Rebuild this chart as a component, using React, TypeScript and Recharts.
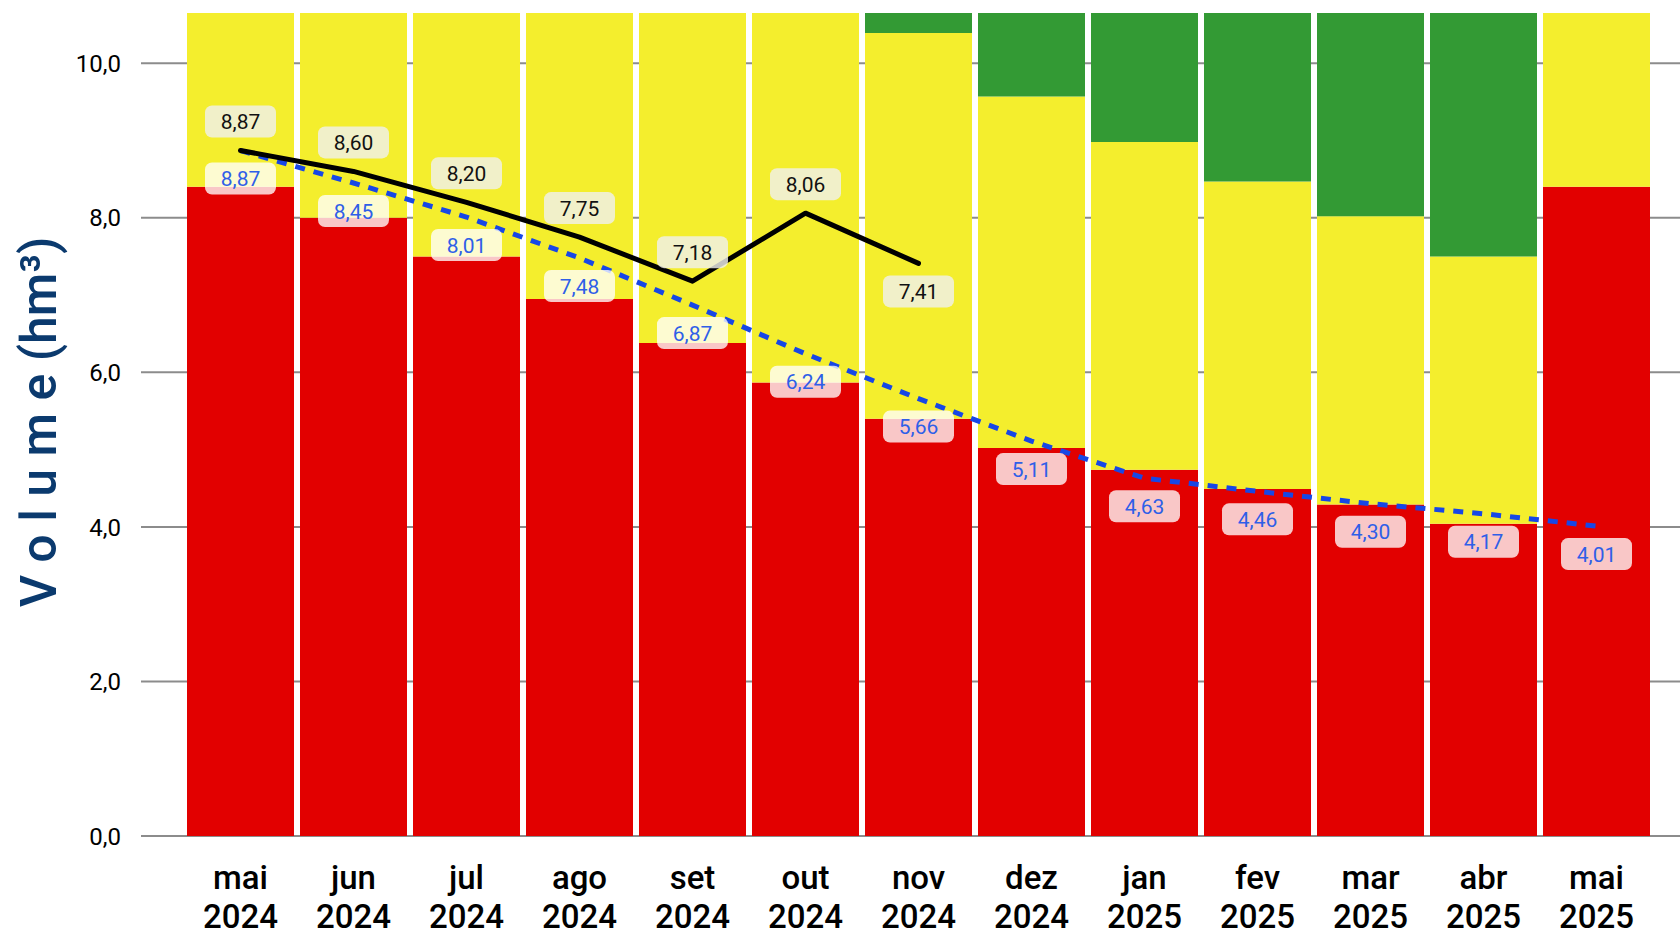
import { ComposedChart, Bar, Line, XAxis, YAxis, CartesianGrid, LabelList } from 'recharts';

const months = [
  'mai 2024', 'jun 2024', 'jul 2024', 'ago 2024', 'set 2024', 'out 2024', 'nov 2024',
  'dez 2024', 'jan 2025', 'fev 2025', 'mar 2025', 'abr 2025', 'mai 2025',
];

// faixas empilhadas (hm³)
const redBand = [8.4, 8.0, 7.5, 6.95, 6.38, 5.87, 5.4, 5.02, 4.74, 4.49, 4.29, 4.04, 8.4];
const yellowBand = [2.25, 2.65, 3.15, 3.7, 4.27, 4.78, 4.99, 4.55, 4.24, 3.98, 3.73, 3.46, 2.25];
const greenBand = [0, 0, 0, 0, 0, 0, 0.26, 1.08, 1.67, 2.18, 2.63, 3.15, 0];

const observed = [8.87, 8.6, 8.2, 7.75, 7.18, 8.06, 7.41, null, null, null, null, null, null];
const projected = [8.87, 8.45, 8.01, 7.48, 6.87, 6.24, 5.66, 5.11, 4.63, 4.46, 4.3, 4.17, 4.01];

const yTicks = [0, 2, 4, 6, 8, 10];

const FONT = 'Roboto, "DejaVu Sans", sans-serif';

const data = months.map((m, i) => ({
  month: m,
  red: redBand[i],
  yellow: yellowBand[i],
  green: greenBand[i],
  observed: observed[i],
  projected: projected[i],
}));

const fmt = (v: number) => v.toFixed(2).replace('.', ',');

function BoxLabel(props: any) {
  const { x, y, value, index, kind } = props;
  if (value == null || x == null || y == null) return null;
  const below = kind === 'projected' || index === 6;
  const cy = below ? y + 28 : y - 29;
  const w = 71;
  const h = 32;
  return (
    <g>
      <rect
        x={x - w / 2}
        y={cy - h / 2}
        width={w}
        height={h}
        rx={7}
        fill={kind === 'projected' ? 'rgba(255,255,255,0.78)' : 'rgba(240,240,236,0.82)'}
      />
      <text
        x={x}
        y={cy}
        dy="0.36em"
        textAnchor="middle"
        fontSize={21}
        fontWeight={400}
        fontFamily={FONT}
        fill={kind === 'projected' ? '#2f5fe8' : '#111'}
      >
        {fmt(value)}
      </text>
    </g>
  );
}

function MonthTick(props: any) {
  const { x, payload } = props;
  const [m, yr] = String(payload.value).split(' ');
  return (
    <g>
      <text x={x} y={889} textAnchor="middle" fontSize={33} fontWeight={500} fontFamily={FONT} fill="#000">
        {m}
      </text>
      <text x={x} y={928} textAnchor="middle" fontSize={33} fontWeight={500} fontFamily={FONT} fill="#000">
        {yr}
      </text>
    </g>
  );
}

function ValueTick(props: any) {
  const { y, payload } = props;
  return (
    <text x={121} y={y} dy="0.36em" textAnchor="end" fontSize={24} fontWeight={400} fontFamily={FONT} fill="#000">
      {payload.value.toFixed(1).replace('.', ',')}
    </text>
  );
}

function AxisTitle() {
  return (
    <text
      x={38}
      y={422}
      transform="rotate(-90 38 422)"
      textAnchor="middle"
      dy="0.36em"
      fontSize={50}
      fontWeight={500}
      fontFamily={FONT}
      fill="#0b3a6e"
    >
      V o l u m e (hm³)
    </text>
  );
}

export default function App() {
  return (
    <div style={{ position: 'absolute', left: 0, top: 0, width: 1680, height: 935, background: '#fff' }}>
      <ComposedChart width={1680} height={935} data={data} margin={{ top: 13, right: 0, bottom: 0, left: 0 }}>
        <CartesianGrid vertical={false} syncWithTicks stroke="#8c8c8c" strokeWidth={2} />
        <XAxis
          dataKey="month"
          axisLine={false}
          tickLine={false}
          height={99}
          padding={{ left: 43, right: 27 }}
          tick={<MonthTick />}
          interval={0}
        />
        <YAxis
          type="number"
          domain={[0, 10.65]}
          ticks={yTicks}
          allowDataOverflow
          width={141}
          axisLine={false}
          tickLine={false}
          tick={<ValueTick />}
          label={{ content: () => <AxisTitle /> }}
        />
        <Bar dataKey="red" stackId="v" fill="#e20000" barSize={107} isAnimationActive={false} />
        <Bar dataKey="yellow" stackId="v" fill="#f4ee2d" barSize={107} isAnimationActive={false} />
        <Bar dataKey="green" stackId="v" fill="#339a34" barSize={107} isAnimationActive={false} />
        <Line
          dataKey="projected"
          stroke="#1747e6"
          strokeWidth={5}
          strokeDasharray="10 9"
          dot={false}
          activeDot={false}
          isAnimationActive={false}
        >
          <LabelList dataKey="projected" content={(p: any) => <BoxLabel {...p} kind="projected" />} />
        </Line>
        <Line
          dataKey="observed"
          stroke="#000"
          strokeWidth={5}
          strokeLinecap="round"
          strokeLinejoin="round"
          dot={false}
          activeDot={false}
          connectNulls={false}
          isAnimationActive={false}
        >
          <LabelList dataKey="observed" content={(p: any) => <BoxLabel {...p} kind="observed" />} />
        </Line>
      </ComposedChart>
    </div>
  );
}
